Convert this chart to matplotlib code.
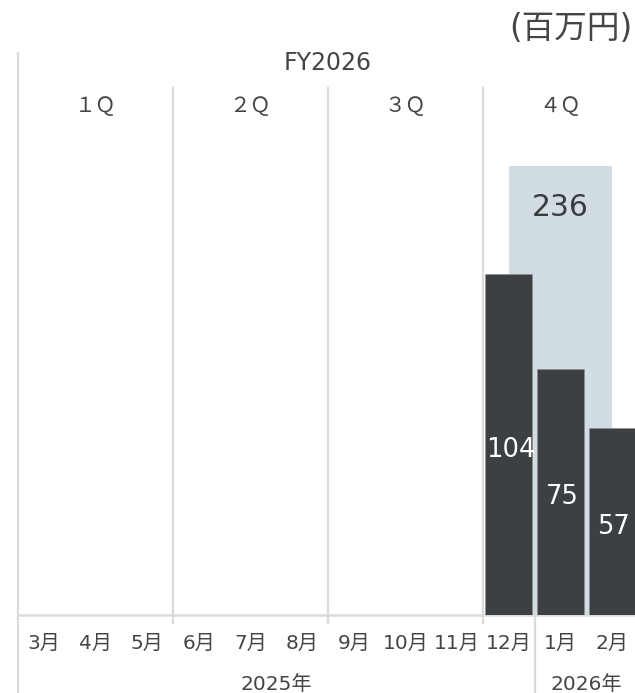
import matplotlib
matplotlib.use("Agg")
import matplotlib.pyplot as plt
from matplotlib.transforms import blended_transform_factory
from matplotlib.lines import Line2D

plt.rcParams['font.family'] = ['DejaVu Sans', 'Noto Sans CJK JP']

# ---- data ----
months = ["3月", "4月", "5月", "6月", "7月", "8月", "9月", "10月", "11月", "12月", "1月", "2月"]
monthly_values = [None, None, None, None, None, None, None, None, None, 104, 75, 57]
quarters = ["１Ｑ", "２Ｑ", "３Ｑ", "４Ｑ"]
quarter_values = [None, None, None, 236]
fiscal_year = "FY2026"
years = ["2025年", "2026年"]
year_month_counts = [10, 2]
unit_label = "(百万円)"

# ---- layout (pixels) ----
W, H = 635, 693
col_w = 51.67
left_px = 18.0
base_px = 615.0
mpx_per_unit = 3.28     # monthly scale
qpx_per_unit = 1.902    # quarterly scale

fig = plt.figure(figsize=(W / 100, H / 100), dpi=100)
fig.patch.set_facecolor("white")
ax_bottom = (H - base_px) / H
ax_q = fig.add_axes([0, ax_bottom, 1, base_px / H])
x0 = -0.5 - left_px / col_w
x1 = (W - left_px) / col_w - 0.5
ax_q.set_xlim(x0, x1)
ax_q.set_ylim(0, base_px / qpx_per_unit)
ax_q.axis("off")

ax_m = ax_q.twinx()
ax_m.set_xlim(x0, x1)
ax_m.set_ylim(0, base_px / mpx_per_unit)
ax_m.axis("off")
ax_m.patch.set_visible(False)

text_color = "#454545"
grid_color = "#dadada"

tr = blended_transform_factory(ax_q.transData, fig.transFigure)
def fy(px):
    return 1 - px / H

# ---- quarterly background bar ----
for qi, qv in enumerate(quarter_values):
    if qv is None:
        continue
    xc = qi * 3 + 1
    ax_q.bar(xc, qv, width=2.0, color="#d1dce3", zorder=1)
    ax_q.text(xc, qv - 21.5, str(qv), ha="center", va="center", fontsize=21.5,
              color="#3a3d40")

# ---- monthly bars ----
for i, v in enumerate(monthly_values):
    if v is None:
        continue
    ax_m.bar(i, v, width=0.905, color="#3c4043", edgecolor="#8c9094",
             linewidth=0.4, zorder=3)
    ax_m.text(i + 0.03, v / 2 - 1.6, str(v), ha="center", va="center",
              fontsize=18.5, color="white", zorder=4)

# ---- grid / frame lines ----
def vline(xd, ytop, ybot):
    fig.add_artist(Line2D([xd, xd], [fy(ytop), fy(ybot)], transform=tr,
                          color=grid_color, lw=1.6, zorder=0))

vline(-0.5, 53, H)
for q in range(1, 4):
    vline(q * 3 - 0.5, 88, 623)
vline(9.5, base_px, H)
fig.add_artist(Line2D([-0.5, x1], [fy(base_px), fy(base_px)], transform=tr,
                      color=grid_color, lw=1.8, zorder=0))

# ---- header texts ----
fig.text(632 / W, fy(28), unit_label, ha="right", va="center", fontsize=23.5,
         color=text_color)
fig.text(5.5, fy(63.5), fiscal_year, ha="center", va="center", fontsize=17,
         color=text_color, transform=tr)
for qi, q in enumerate(quarters):
    fig.text(qi * 3 + 1, fy(106), q, ha="center", va="center", fontsize=15,
             color=text_color, transform=tr)

# ---- month / year labels ----
for i, m in enumerate(months):
    fig.text(i, fy(643), m, ha="center", va="center", fontsize=14.5,
             color=text_color, transform=tr)
start = 0
for y, n in zip(years, year_month_counts):
    xc = start - 0.5 + n / 2
    fig.text(xc, fy(685), y, ha="center", va="center", fontsize=14.5,
             color=text_color, transform=tr)
    start += n

fig.savefig("out.png", dpi=100, facecolor="white")
